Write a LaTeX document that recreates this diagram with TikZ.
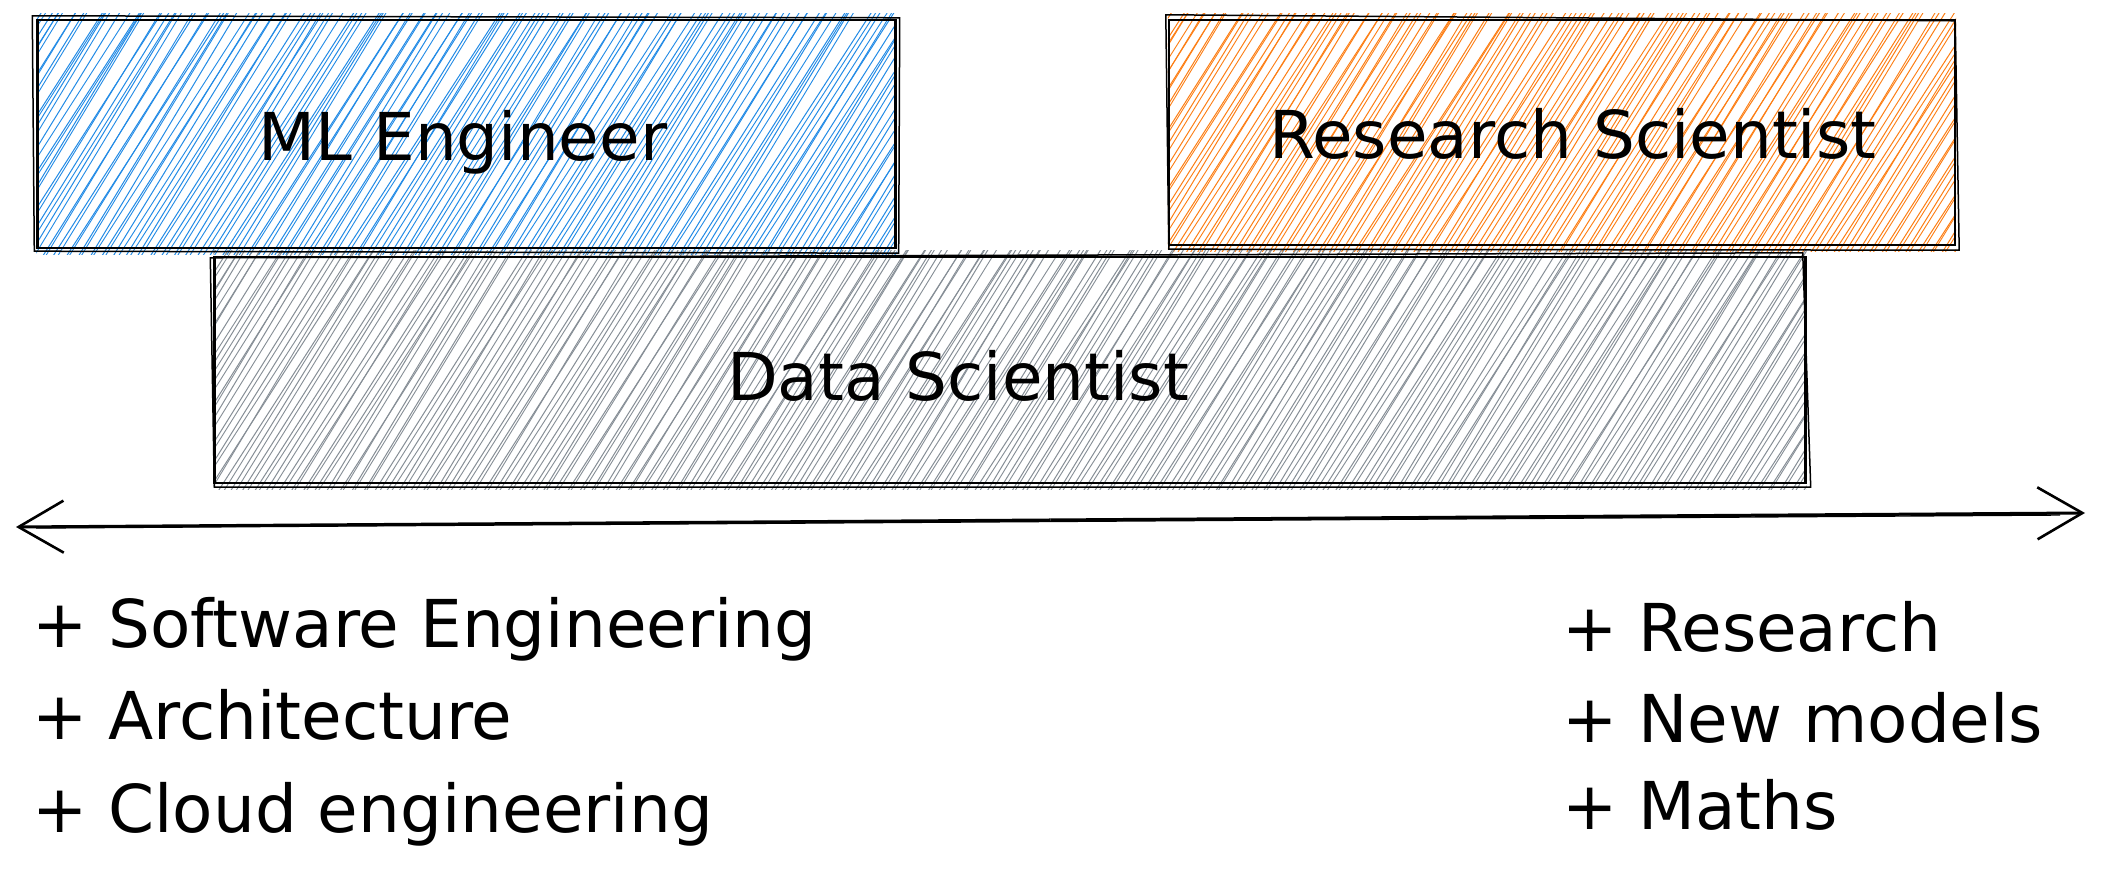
\documentclass[tikz,border=0pt]{standalone}
\usepackage{fontspec}
\setmainfont{DejaVu Sans}
\usetikzlibrary{arrows.meta,calc,backgrounds}
\definecolor{exblue}{HTML}{228BE6}
\definecolor{exorange}{HTML}{FD7E14}
\definecolor{exgray}{HTML}{868E96}
\newcommand{\hachurebox}[2]{%
  \begin{scope}
    \clip ([yshift=-5pt]#1.south west) rectangle ([yshift=5pt]#1.north east);
    \path ([yshift=-8pt]#1.south west) coordinate (hsw);
    \foreach \hx in {-200,-188,...,1600} {
      \draw[#2, line width=1pt] ([xshift={(\hx + 2*rnd)*1pt}]hsw) -- ++({58+2*rnd-1}:420pt);
      \draw[#2, line width=0.9pt] ([xshift={(\hx + 4 + 2*rnd)*1pt}]hsw) -- ++({58+2*rnd-1}:420pt);
    }
  \end{scope}}
\tikzset{
  rolebox/.style={draw=black, line width=2.4pt, inner sep=0pt},
  sketch/.style={draw=black, line width=1.5pt},
  itemtext/.style={anchor=base west, inner sep=0pt, font=\fontsize{66}{80}\selectfont},
  barb/.style={-{Straight Barb[length=45pt,width=52pt,line width=2.6pt]}},
}
\begin{document}
\pgfmathsetseed{7}
\begin{tikzpicture}[x=1pt,y=1pt]
\useasboundingbox (0,0) rectangle (2102,877);

% boxes
\node[rolebox, minimum width=858pt, minimum height=228pt] (ml) at (466.5,743) {};
\node[rolebox, minimum width=786pt, minimum height=225pt] (rs) at (1562,744.5) {};
\node[rolebox, minimum width=1591pt, minimum height=226pt] (ds) at (1010,507) {};

\begin{scope}[on background layer]
  \fill[white] (0,0) rectangle (2102,877);
  \hachurebox{ml}{exblue}
  \hachurebox{rs}{exorange}
  \hachurebox{ds}{exgray}
\end{scope}

% labels
\node[itemtext, anchor=base] (mlt) at (463,716) {ML Engineer};
\node[itemtext, anchor=base] (rst) at (1573,718) {Research Scientist};
\node[itemtext, anchor=base] (dst) at (958,476) {Data Scientist};

% second sketchy strokes
\draw[sketch] ([shift={(-4pt,3pt)}]ml.north west) -- ([shift={(3pt,1pt)}]ml.north east) -- ([shift={(2pt,-4pt)}]ml.south east) -- ([shift={(-2pt,-2pt)}]ml.south west) -- cycle;
\draw[sketch] ([shift={(-2pt,4pt)}]rs.north west) -- ([shift={(-1pt,-2pt)}]rs.north east) -- ([shift={(3pt,-4pt)}]rs.south east) -- ([shift={(1pt,-3pt)}]rs.south west) -- cycle;
\draw[sketch] ([shift={(-3pt,-2pt)}]ds.north west) -- ([shift={(-4pt,3pt)}]ds.north east) -- ([shift={(4pt,-3pt)}]ds.south east) -- ([shift={(1pt,-3pt)}]ds.south west) -- cycle;

% axis arrow
\coordinate (al) at (16,350);
\coordinate (ar) at (2085,364);
\coordinate (am) at ($(al)!0.5!(ar)$);
\draw[line width=3pt, barb] (am) -- (ar);
\draw[line width=3pt, barb] (am) -- (al);
\draw[line width=1.4pt] ($(al)+(20pt,-1pt)$) -- ($(ar)+(-25pt,-2pt)$);

% lists
\node[itemtext] (l1) at (32,229) {+ Software Engineering};
\node[itemtext] (l2) at (32,137) {+ Architecture};
\node[itemtext] (l3) at (32,44) {+ Cloud engineering};
\node[itemtext] (r1) at (1562,225) {+ Research};
\node[itemtext] (r2) at (1562,134) {+ New models};
\node[itemtext] (r3) at (1562,47) {+ Maths};
\end{tikzpicture}
\end{document}
